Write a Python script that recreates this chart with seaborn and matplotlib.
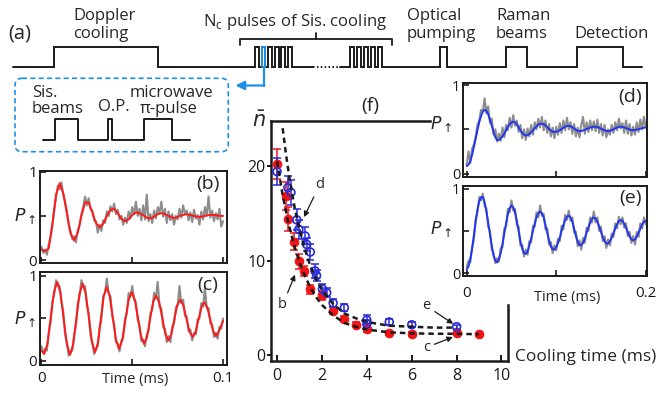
import numpy as np
import seaborn as sns
import matplotlib.pyplot as plt
from matplotlib.patches import FancyBboxPatch

# ---------------- data ----------------
# (b), (c): time traces on 0..0.1 ms
t_bc = np.linspace(0, 0.1, 101)
b_gray = [0.15, 0.08, 0.12, 0.06, 0.18, 0.26, 0.38, 0.55, 0.70, 0.84,
          0.80, 0.88, 0.74, 0.66, 0.55, 0.40, 0.33, 0.24, 0.27, 0.20,
          0.34, 0.39, 0.52, 0.60, 0.72, 0.62, 0.70, 0.58, 0.56, 0.45,
          0.44, 0.31, 0.40, 0.33, 0.45, 0.42, 0.55, 0.50, 0.61, 0.55,
          0.64, 0.52, 0.57, 0.46, 0.50, 0.40, 0.48, 0.42, 0.55, 0.47,
          0.60, 0.52, 0.66, 0.50, 0.58, 0.45, 0.62, 0.46, 0.74, 0.44,
          0.52, 0.42, 0.56, 0.47, 0.60, 0.53, 0.66, 0.49, 0.58, 0.42,
          0.55, 0.45, 0.52, 0.40, 0.50, 0.46, 0.58, 0.48, 0.62, 0.52,
          0.56, 0.45, 0.54, 0.43, 0.57, 0.47, 0.51, 0.40, 0.55, 0.46,
          0.60, 0.50, 0.72, 0.48, 0.56, 0.44, 0.53, 0.46, 0.58, 0.38,
          0.44]
c_gray = [0.17, 0.10, 0.14, 0.12, 0.33, 0.45, 0.70, 0.78, 0.95, 0.90,
          0.88, 0.70, 0.58, 0.31, 0.22, 0.06, 0.10, 0.12, 0.31, 0.42,
          0.68, 0.76, 0.95, 0.87, 0.88, 0.66, 0.56, 0.30, 0.22, 0.08,
          0.14, 0.17, 0.39, 0.50, 0.76, 0.80, 0.97, 0.80, 0.76, 0.52,
          0.43, 0.22, 0.20, 0.11, 0.24, 0.27, 0.49, 0.56, 0.80, 0.76,
          0.88, 0.72, 0.69, 0.48, 0.42, 0.23, 0.25, 0.17, 0.31, 0.35,
          0.56, 0.60, 0.80, 0.74, 0.93, 0.64, 0.62, 0.40, 0.37, 0.22,
          0.29, 0.22, 0.40, 0.44, 0.63, 0.65, 0.88, 0.68, 0.72, 0.53,
          0.52, 0.35, 0.37, 0.24, 0.33, 0.31, 0.49, 0.50, 0.68, 0.64,
          0.87, 0.62, 0.62, 0.44, 0.43, 0.28, 0.33, 0.26, 0.40, 0.38,
          0.50]

t_b_fit = np.linspace(0, 0.1, 51)
b_fit = [0.12, 0.10, 0.13, 0.41, 0.74, 0.87, 0.76, 0.53, 0.30, 0.22,
         0.31, 0.50, 0.65, 0.65, 0.54, 0.42, 0.37, 0.41, 0.50, 0.57,
         0.58, 0.53, 0.47, 0.44, 0.46, 0.51, 0.54, 0.53, 0.51, 0.48,
         0.47, 0.49, 0.52, 0.53, 0.52, 0.50, 0.48, 0.48, 0.50, 0.51,
         0.52, 0.51, 0.50, 0.49, 0.49, 0.50, 0.51, 0.51, 0.51, 0.50,
         0.50]

t_c_fit = [0, .0015, .0033, .0051, .0069, .0087, .01045, .0122, .01395, .0157,
           .01745, .0192, .02095, .0227, .0244, .0261, .0278, .0295, .0311, .0327,
           .0343, .0359, .0376, .0393, .041, .0427, .04445, .0462, .04795, .0497,
           .0514, .0531, .0548, .0565, .05815, .0598, .06145, .0631, .0648, .0665,
           .0682, .0699, .0715, .0731, .0747, .0763, .07805, .0798, .08155, .0833,
           .0849, .0865, .0881, .0897, .0913, .0929, .0945, .0961, .098, .1]
c_fit = [.12, .08, .20, .51, .81, .93, .80, .50, .20, .07,
         .19, .49, .79, .91, .79, .51, .22, .10, .21, .49,
         .76, .87, .76, .51, .25, .14, .24, .48, .71, .81,
         .72, .51, .29, .20, .28, .49, .69, .77, .69, .51,
         .32, .24, .31, .48, .65, .72, .66, .50, .34, .28,
         .34, .49, .63, .69, .63, .49, .35, .29, .36, .47]

# (d), (e): time traces on 0..0.2 ms
t_de = np.linspace(0, 0.2, 101)
d_gray = [0.10, 0.25, 0.12, 0.28, 0.33, 0.42, 0.55, 0.60, 0.72, 0.70,
          0.85, 0.68, 0.76, 0.57, 0.62, 0.44, 0.50, 0.36, 0.45, 0.37,
          0.52, 0.41, 0.55, 0.49, 0.63, 0.52, 0.66, 0.54, 0.60, 0.47,
          0.55, 0.40, 0.50, 0.38, 0.51, 0.42, 0.55, 0.44, 0.58, 0.50,
          0.62, 0.52, 0.64, 0.49, 0.60, 0.46, 0.56, 0.42, 0.52, 0.40,
          0.53, 0.44, 0.57, 0.46, 0.60, 0.49, 0.63, 0.50, 0.58, 0.45,
          0.56, 0.42, 0.52, 0.41, 0.55, 0.64, 0.45, 0.58, 0.47, 0.60,
          0.49, 0.59, 0.48, 0.61, 0.46, 0.56, 0.43, 0.55, 0.41, 0.50,
          0.44, 0.55, 0.46, 0.58, 0.49, 0.62, 0.51, 0.57, 0.46, 0.60,
          0.45, 0.56, 0.43, 0.53, 0.44, 0.58, 0.47, 0.61, 0.50, 0.64,
          0.52]
e_gray = [0.08, 0.15, 0.13, 0.30, 0.40, 0.64, 0.72, 0.90, 0.86, 0.94,
          0.80, 0.76, 0.55, 0.50, 0.28, 0.24, 0.12, 0.18, 0.14, 0.30,
          0.31, 0.53, 0.55, 0.76, 0.72, 0.86, 0.74, 0.76, 0.57, 0.55,
          0.33, 0.34, 0.20, 0.28, 0.22, 0.38, 0.37, 0.56, 0.55, 0.72,
          0.66, 0.80, 0.68, 0.70, 0.52, 0.53, 0.34, 0.37, 0.24, 0.33,
          0.27, 0.41, 0.38, 0.56, 0.52, 0.69, 0.63, 0.74, 0.62, 0.66,
          0.48, 0.49, 0.32, 0.39, 0.28, 0.42, 0.36, 0.54, 0.50, 0.66,
          0.60, 0.73, 0.60, 0.66, 0.50, 0.55, 0.38, 0.44, 0.30, 0.40,
          0.33, 0.47, 0.43, 0.59, 0.53, 0.67, 0.58, 0.66, 0.54, 0.59,
          0.44, 0.49, 0.36, 0.44, 0.34, 0.49, 0.43, 0.59, 0.53, 0.66,
          0.58]
d_fit = [.085, .10, .14, .21, .30, .39, .49, .58, .65, .70,
         .72, .71, .67, .61, .54, .47, .41, .38, .38, .40,
         .42, .45, .49, .53, .56, .58, .585, .577, .555, .525,
         .49, .46, .44, .43, .434, .447, .465, .488, .512, .535,
         .552, .563, .565, .558, .544, .525, .505, .487, .475, .47,
         .473, .48, .49, .505, .518, .53, .537, .54, .536, .525,
         .51, .495, .484, .48, .482, .487, .494, .503, .512, .52,
         .526, .53, .53, .525, .518, .508, .498, .489, .482, .48,
         .483, .49, .50, .51, .52, .528, .53, .527, .522, .514,
         .506, .498, .492, .49, .492, .496, .502, .508, .514, .519,
         .52]
e_fit = [.05, .08, .17, .29, .45, .61, .75, .85, .90, .90,
         .84, .73, .60, .46, .33, .21, .15, .13, .17, .24,
         .35, .47, .59, .70, .77, .80, .78, .72, .62, .50,
         .38, .29, .24, .23, .26, .33, .41, .50, .59, .665,
         .71, .73, .71, .66, .57, .48, .39, .32, .285, .28,
         .31, .36, .42, .50, .57, .63, .67, .68, .66, .61,
         .53, .44, .375, .335, .334, .36, .41, .48, .545, .60,
         .645, .66, .647, .61, .553, .49, .428, .38, .353, .353,
         .377, .42, .476, .532, .58, .617, .63, .618, .584, .536,
         .484, .436, .402, .39, .40, .434, .48, .53, .576, .608,
         .62]

# (f): mean phonon number vs cooling time
red_t = [0, 0.38, 0.48, 0.75, 0.97, 1.18, 1.48, 2.02, 2.5, 3.0, 3.5, 4.0, 5.0, 6.0, 8.0, 9.0]
red_n = [20.2, 16.8, 14.4, 12.0, 9.9, 8.9, 6.95, 6.3, 4.7, 3.8, 3.2, 2.75, 2.3, 2.25, 2.35, 2.2]
red_err = [1.6, 1.5, 1.3, 0.9, 0.8, 0.5, 0.45, 0.5, 0.35, 0.3, 0.25, 0.3, 0.2, 0.2, 0.2, 0.15]
blue_t = [0, 0.48, 0.62, 0.88, 0.97, 1.25, 1.32, 1.48, 1.69, 1.76, 2.02, 2.21, 2.5, 3.0, 4.0, 4.0, 5.0, 6.0, 8.0]
blue_n = [19.4, 17.7, 17.2, 14.3, 13.3, 12.6, 11.7, 10.9, 8.9, 8.4, 7.0, 6.6, 5.5, 5.0, 3.7, 3.3, 3.5, 3.2, 3.0]
blue_err = [1.4, 1.2, 1.3, 1.1, 1.0, 0.9, 0.7, 0.8, 0.7, 0.6, 0.5, 0.5, 0.4, 0.35, 0.5, 0.4, 0.3, 0.25, 0.2]
fit_hi_t = [0.25, 0.4, 0.5, 0.6, 0.8, 1.0, 1.25, 1.5, 1.75, 2.0, 2.5, 3.0, 3.5, 4.0, 5.0, 6.0, 7.0, 8.0]
fit_hi_n = [24.0, 21.2, 19.6, 18.0, 15.4, 13.3, 11.1, 9.3, 8.0, 6.9, 5.4, 4.4, 3.9, 3.5, 3.1, 3.0, 2.9, 2.9]
fit_lo_t = [0, 0.25, 0.5, 0.75, 1.0, 1.25, 1.5, 1.75, 2.0, 2.5, 3.0, 3.5, 4.0, 5.0, 6.0, 7.0, 8.0, 9.0]
fit_lo_n = [20.5, 16.9, 14.0, 11.7, 9.8, 8.3, 7.1, 6.1, 5.3, 4.2, 3.4, 3.0, 2.7, 2.4, 2.3, 2.25, 2.25, 2.2]

# (a): pulse sequence (schematic units = pixels)
doppler_pulse = [(54.3, 158.3)]
sis_group1 = [(255.0, 258.7), (261.6, 265.3), (268.2, 271.9), (274.8, 278.5), (281.4, 285.1), (288.0, 291.7)]
sis_group2 = [(350.0, 353.7), (357.0, 360.7), (364.0, 367.7), (371.0, 374.7), (378.0, 381.7)]
late_pulses = [(440.0, 447.0), (505.7, 526.7), (576.7, 623.3)]
inset_pulses = [(55.0, 78.3), (108.3, 112.3), (144.0, 171.7)]

RED = '#ff1a1a'
BLUE_FIT = '#2236f0'
GRAY = '#8c8c8c'
LINK = '#1e8ee6'

# ---------------- figure ----------------
sns.set_theme(style="white")
plt.rcParams['font.family'] = ['Open Sans', 'DejaVu Sans']
plt.rcParams['mathtext.fontset'] = 'dejavusans'

W, H = 659, 394
fig = plt.figure(figsize=(W / 100, H / 100), dpi=100)


def px_axes(x0, y0, x1, y1, **kw):
    return fig.add_axes([x0 / W, 1 - y1 / H, (x1 - x0) / W, (y1 - y0) / H], **kw)


def trace_panel(box, t_g, gray, t_f, fit, color, xlim, ylim, xticks, xlabels, xpad, ysize=11):
    ax = px_axes(*box)
    sns.lineplot(x=t_g, y=gray, ax=ax, color=GRAY, lw=1.5)
    sns.lineplot(x=t_f, y=fit, ax=ax, color=color, lw=1.4)
    ax.set_xlim(*xlim)
    ax.set_ylim(*ylim)
    ax.set_yticks([0, 0.5, 1])
    ax.set_yticklabels(['0', '', '1'])
    ax.set_xticks(xticks)
    ax.set_xticklabels(xlabels)
    ax.tick_params(axis='both', direction='in', length=4, width=1.2, labelsize=11,
                   bottom=True, left=True, colors='k')
    ax.tick_params(axis='y', pad=2, labelsize=ysize)
    ax.tick_params(axis='x', pad=xpad)
    for s in ax.spines.values():
        s.set_color('k')
        s.set_linewidth(1.4)
    ax.set_xlabel('')
    ax.set_ylabel('')
    return ax


# ---- panel (f): a frame with the upper-right corner left open for (d), (e) ----
ax_f = px_axes(271, 121, 508, 361)
ax_f.set_xlim(-0.27, 10.29)
ax_f.set_ylim(-0.63, 24.76)
ax_f.errorbar(red_t, red_n, yerr=red_err, fmt='none', ecolor='#e8141c',
              elinewidth=1.1, capsize=3, capthick=1.1, zorder=2)
ax_f.errorbar(blue_t, blue_n, yerr=blue_err, fmt='none', ecolor='#2a2ad8',
              elinewidth=1.1, capsize=3, capthick=1.1, zorder=2)
sns.scatterplot(x=red_t, y=red_n, ax=ax_f, color='#f01414', s=38,
                edgecolor='#f01414', linewidth=0.8, zorder=3)
sns.scatterplot(x=blue_t, y=blue_n, ax=ax_f, s=32, marker='o',
                facecolor='none', edgecolor='#2a2ad8', linewidth=1.2, zorder=3)
sns.lineplot(x=fit_hi_t, y=fit_hi_n, ax=ax_f, color='k', lw=1.8,
             linestyle=(0, (2.2, 1.6)), zorder=4)
sns.lineplot(x=fit_lo_t, y=fit_lo_n, ax=ax_f, color='k', lw=1.8,
             linestyle=(0, (2.2, 1.6)), zorder=4)
ax_f.set_xticks([0, 2, 4, 6, 8, 10])
ax_f.set_yticks([0, 10, 20])
ax_f.tick_params(axis='x', direction='in', length=4, width=1.4, labelsize=11.5,
                 pad=5, bottom=True, colors='k')
ax_f.tick_params(axis='y', direction='out', length=3, width=1.4, labelsize=11.5,
                 pad=1, left=True, colors='k')
for s in ax_f.spines.values():
    s.set_color('k')
    s.set_linewidth(1.8)
ax_f.spines['top'].set_bounds(-0.27, 6.8)
ax_f.spines['right'].set_bounds(-0.63, 5.3)
ax_f.patch.set_visible(False)
ax_f.set_xlabel('')
ax_f.set_ylabel('')

arrow_kw = dict(arrowstyle='-|>', color='k', lw=0.9, mutation_scale=8, shrinkA=1, shrinkB=0)
ax_f.annotate('d', xy=(1.2, 14.6), xytext=(1.9, 18.0), fontsize=10.5,
              ha='center', va='center', arrowprops=arrow_kw)
ax_f.annotate('b', xy=(0.8, 8.5), xytext=(0.25, 5.3), fontsize=10.5,
              ha='center', va='center', arrowprops=arrow_kw)
ax_f.annotate('e', xy=(7.85, 3.3), xytext=(6.65, 5.2), fontsize=10.5,
              ha='center', va='center', arrowprops=arrow_kw)
ax_f.annotate('c', xy=(7.83, 1.9), xytext=(6.65, 0.8), fontsize=10.5,
              ha='center', va='center', arrowprops=arrow_kw)

# ---- small time-trace panels ----
ax_b = trace_panel((40, 170.7, 226.7, 263.3), t_bc, b_gray, t_b_fit, b_fit, RED,
                   (-0.0008, 0.102), (-0.037, 1.012), [0, 0.05, 0.1], ['', '', ''], 4)
ax_c = trace_panel((40, 271.7, 226.7, 365), t_bc, c_gray, t_c_fit, c_fit, RED,
                   (-0.0008, 0.102), (-0.05, 1.05), [0, 0.05, 0.1], ['0', '', '0.1'], 4)
ax_d = trace_panel((463.3, 83.3, 646.7, 176.7), t_de, d_gray, t_de, d_fit, BLUE_FIT,
                   (-0.0038, 0.2011), (-0.035, 1.02), [0, 0.1, 0.2], ['', '', ''], 4,
                   ysize=10.5)
ax_e = trace_panel((463.3, 186, 646.7, 276), t_de, e_gray, t_de, e_fit, BLUE_FIT,
                   (-0.0038, 0.2011), (-0.03, 1.03), [0, 0.1, 0.2], ['0', '', '0.2'], 7,
                   ysize=10.5)

# ---- overlay for (a) and free text ----
ax_a = fig.add_axes([0, 0, 1, 1])
ax_a.set_xlim(0, W)
ax_a.set_ylim(H, 0)
ax_a.axis('off')


def square_wave(x0, x1, pulses, lo, hi):
    xs, ys = [x0], [lo]
    for s, e in pulses:
        xs += [s, s, e, e]
        ys += [lo, hi, hi, lo]
    xs.append(x1)
    ys.append(lo)
    return xs, ys


LO, HI = 67.0, 46.5
xs, ys = square_wave(12.7, 313.0, doppler_pulse + sis_group1, LO, HI)
ax_a.plot(xs, ys, color='k', lw=1.4, solid_joinstyle='miter')
ax_a.plot([313.0, 340.0], [LO, LO], color='k', lw=1.4, linestyle=(0, (0.8, 1.2)))
xs, ys = square_wave(340.0, 641.7, sis_group2 + late_pulses, LO, HI)
ax_a.plot(xs, ys, color='k', lw=1.4, solid_joinstyle='miter')
bs, be = sis_group1[1]
ax_a.plot([bs, bs, be, be], [LO, HI, HI, LO], color=LINK, lw=1.4)

# bracket over Sis. cooling pulses
ax_a.plot([239.5, 239.5, 391.7, 391.7], [45.0, 38.5, 38.5, 45.0], color='k', lw=1.3)
ax_a.plot([316.0, 316.0], [38.5, 32.5], color='k', lw=1.3)

# blue link arrow to inset
ax_a.plot([263.5, 263.5], [LO, 85.5], color=LINK, lw=1.6)
ax_a.annotate('', xy=(235.5, 85.5), xytext=(264.3, 85.5),
              arrowprops=dict(arrowstyle='-|>', color=LINK, lw=1.6, mutation_scale=13,
                              shrinkA=0, shrinkB=0))

# inset box
box = FancyBboxPatch((15, 78.3), 213.3, 73.4, boxstyle='round,pad=0,rounding_size=7',
                     linestyle=(0, (3, 2)), edgecolor=LINK, facecolor='none', lw=1.2)
ax_a.add_patch(box)
xs, ys = square_wave(43.3, 190.0, inset_pulses, 140.0, 119.3)
ax_a.plot(xs, ys, color='k', lw=1.4)

FS = 12
ax_a.text(8, 33, '(a)', fontsize=14.5, ha='left', va='center')
ax_a.text(73, 20, 'Doppler', fontsize=FS, ha='left', va='baseline')
ax_a.text(73, 38, 'cooling', fontsize=FS, ha='left', va='baseline')
ax_a.text(203, 26, r'N$_\mathregular{c}$ pulses of Sis. cooling', fontsize=FS,
          ha='left', va='baseline')
ax_a.text(407, 20, 'Optical', fontsize=FS, ha='left', va='baseline')
ax_a.text(407, 38, 'pumping', fontsize=FS, ha='left', va='baseline')
ax_a.text(496, 20, 'Raman', fontsize=FS, ha='left', va='baseline')
ax_a.text(496, 38, 'beams', fontsize=FS, ha='left', va='baseline')
ax_a.text(574, 38, 'Detection', fontsize=FS, ha='left', va='baseline')
ax_a.text(31.7, 96.7, 'Sis.', fontsize=FS, ha='left', va='baseline')
ax_a.text(31.7, 113.3, 'beams', fontsize=FS, ha='left', va='baseline')
ax_a.text(98, 110.7, 'O.P.', fontsize=FS, ha='left', va='baseline')
ax_a.text(130, 96.7, 'microwave', fontsize=FS, ha='left', va='baseline')
ax_a.text(140, 113.3, 'π-pulse', fontsize=FS, ha='left', va='baseline')

for lbl, (x, y) in {'(b)': (207.5, 183.7), '(c)': (207.5, 285), '(d)': (630, 96.7),
                    '(e)': (630, 198.3), '(f)': (370, 105.5)}.items():
    ax_a.text(x, y, lbl, fontsize=14, ha='center', va='center')

for (x, y) in [(25, 216), (25, 319), (441.7, 124), (441.7, 229)]:
    ax_a.text(x, y, r'$P_{\uparrow}$', fontsize=12.5, ha='center', va='center')

ax_a.text(135, 380, 'Time (ms)', fontsize=10.5, ha='center', va='center')
ax_a.text(566.7, 297, 'Time (ms)', fontsize=10.5, ha='center', va='center')
ax_a.text(259, 121, r'$\bar{n}$', fontsize=15, ha='center', va='center')
ax_a.text(515, 357, 'Cooling time (ms)', fontsize=12.5, ha='left', va='center')

fig.savefig('out.png', dpi=100)
